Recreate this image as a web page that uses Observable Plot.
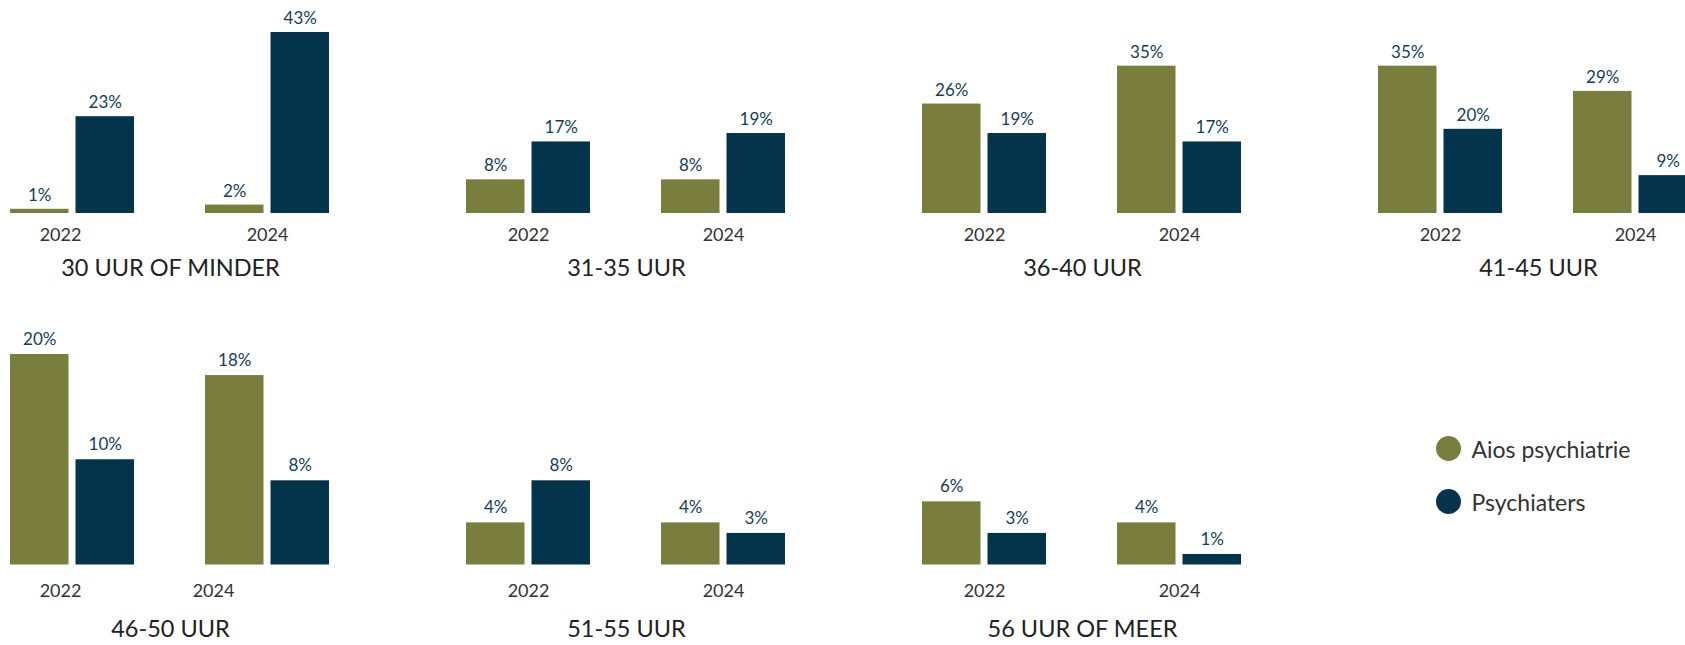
<!DOCTYPE html>
<html>
<head>
<meta charset="utf-8">
<script src="https://cdn.jsdelivr.net/npm/d3@7"></script>
<script src="https://cdn.jsdelivr.net/npm/@observablehq/plot@0.6"></script>
<style>
  html, body { margin: 0; padding: 0; background: #fff; overflow: hidden; }
  #wrap { position: relative; width: 1685px; height: 645px; overflow: hidden; font-family: Lato, "Noto Sans", sans-serif; }
  #wrap > div, #wrap > svg { position: absolute; }
  #wrap svg { max-width: none !important; }
</style>
</head>
<body>
<div id="wrap"></div>
<script>
// ---- data ----
const panels = ["30 UUR OF MINDER", "31-35 UUR", "36-40 UUR", "41-45 UUR", "46-50 UUR", "51-55 UUR", "56 UUR OF MEER"];
const years = ["2022", "2024"];
const series = ["Aios psychiatrie", "Psychiaters"];
const aios2022 = [1, 8, 26, 35, 20, 4, 6];
const aios2024 = [2, 8, 35, 29, 18, 4, 4];
const psy2022 = [23, 17, 19, 20, 10, 8, 3];
const psy2024 = [43, 19, 17, 9, 8, 3, 1];
const colors = ["#7a7e3d", "#04344c"];

// ---- table built from arrays ----
const rows = [];
panels.forEach((p, i) => {
  rows.push({panel: p, year: years[0], series: series[0], value: aios2022[i]});
  rows.push({panel: p, year: years[0], series: series[1], value: psy2022[i]});
  rows.push({panel: p, year: years[1], series: series[0], value: aios2024[i]});
  rows.push({panel: p, year: years[1], series: series[1], value: psy2024[i]});
});

const FONT = "Lato, 'Noto Sans', sans-serif";
const inset = 65.5;      // splits each year band into two bars
const labelShift = 32.75;

function rowPlot(rowPanels, o) {
  const data = rows.filter(d => rowPanels.includes(d.panel));
  const yearLabels = rowPanels.flatMap(p => years.map(y => ({panel: p, year: y})));
  const first = rowPanels[0];
  const normalLabels = yearLabels.filter(d => !(d.panel === first && o.shift[d.year] !== undefined));
  const marks = [];
  series.forEach((s, k) => {
    const sub = data.filter(d => d.series === s);
    marks.push(Plot.barY(sub, {
      fx: "panel", x: "year", y: "value", fill: colors[k],
      insetLeft: k === 0 ? 0 : inset, insetRight: k === 0 ? inset : 0
    }));
    marks.push(Plot.text(sub, {
      fx: "panel", x: "year", y: "value", text: d => d.value + "%",
      dx: k === 0 ? -labelShift : labelShift, dy: o.labelDy,
      fill: "#143f5a", fontSize: 17, fontFamily: FONT
    }));
  });
  marks.push(Plot.text(normalLabels, {
    fx: "panel", x: "year", text: "year", frameAnchor: "bottom", dy: o.yearDy,
    fill: "#333", fontSize: 18, fontFamily: FONT
  }));
  Object.entries(o.shift).forEach(([yr, dx]) => {
    marks.push(Plot.text(yearLabels.filter(d => d.panel === first && d.year === yr), {
      fx: "panel", x: "year", text: "year", frameAnchor: "bottom", dy: o.yearDy, dx,
      fill: "#333", fontSize: 18, fontFamily: FONT
    }));
  });
  marks.push(Plot.text(rowPanels, {
    fx: d => d, text: d => d, frameAnchor: "bottom", dy: o.titleDy,
    fill: "#222", fontSize: 23.5, fontFamily: FONT
  }));
  return Plot.plot({
    width: o.width, height: o.height,
    marginLeft: 10, marginRight: 0, marginTop: o.marginTop, marginBottom: o.marginBottom,
    fx: {domain: rowPanels, paddingInner: 136 / 456, paddingOuter: 0, axis: null, label: null},
    x: {domain: years, paddingInner: 0.363, paddingOuter: 0, axis: null, label: null},
    y: {domain: [0, o.max], axis: null, label: null},
    style: {background: "transparent", overflow: "visible", maxWidth: "none"},
    marks
  });
}

const wrap = document.getElementById("wrap");

const topRow = rowPlot(panels.slice(0, 4), {
  width: 1698, height: 290, marginTop: 32, marginBottom: 77, max: 43,
  labelDy: -14, yearDy: 27.5, titleDy: 62, shift: {"2022": -12}
});
topRow.style.left = "0px"; topRow.style.top = "0px";
wrap.appendChild(topRow);

const bottomRow = rowPlot(panels.slice(4), {
  width: 1242, height: 335, marginTop: 44, marginBottom: 80.5, max: 20,
  labelDy: -15, yearDy: 32, titleDy: 71.5, shift: {"2022": -12, "2024": -54}
});
bottomRow.style.left = "0px"; bottomRow.style.top = "310px";
wrap.appendChild(bottomRow);

// legend
const legendPlot = Plot.plot({
  width: 260, height: 130, margin: 0, marginLeft: 28,
  x: {axis: null},
  y: {domain: series, range: [38, 91], padding: 0, axis: null},
  color: {domain: series, range: colors},
  style: {background: "transparent", overflow: "visible", maxWidth: "none"},
  marks: [
    Plot.dot(series, {y: d => d, fill: d => d, r: 12.5, frameAnchor: "left"}),
    Plot.text(series, {y: d => d, text: d => d, frameAnchor: "left", dx: 23, dy: 2, textAnchor: "start",
      fill: "#333", fontSize: 23, fontFamily: FONT})
  ]
});
legendPlot.style.left = "1420px"; legendPlot.style.top = "410px";
wrap.appendChild(legendPlot);
</script>
</body>
</html>
